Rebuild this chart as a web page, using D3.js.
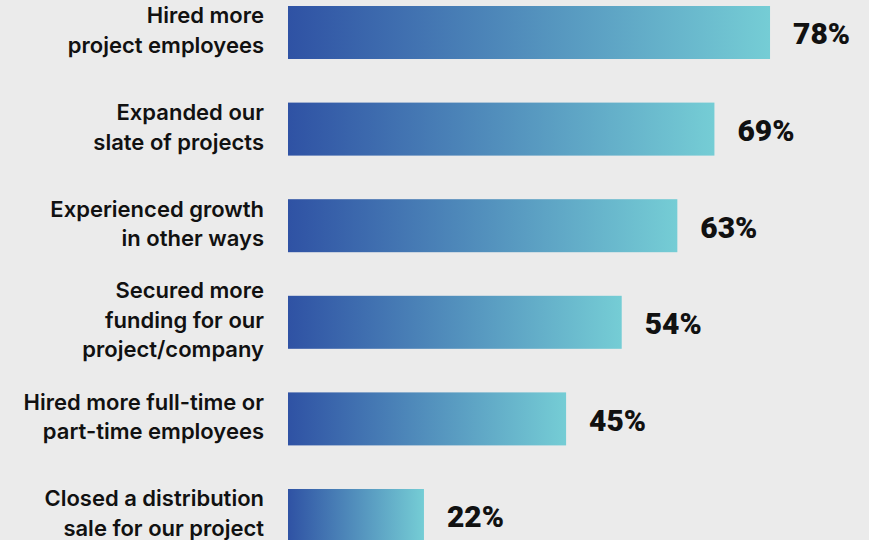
<!DOCTYPE html>
<html>
<head>
<meta charset="utf-8">
<script src="https://cdn.jsdelivr.net/npm/d3@7"></script>
<style>
  html, body { margin: 0; padding: 0; background: #ebebeb; }
  svg { display: block; }
</style>
</head>
<body>
<svg id="chart" width="869" height="540"></svg>
<script>
// Survey outcomes, one bar per answer
const categories = [
  "Hired more project employees",
  "Expanded our slate of projects",
  "Experienced growth in other ways",
  "Secured more funding for our project/company",
  "Hired more full-time or part-time employees",
  "Closed a distribution sale for our project"
];
// Label lines as they wrap next to each bar
const labelLines = [
  ["Hired more", "project employees"],
  ["Expanded our", "slate of projects"],
  ["Experienced growth", "in other ways"],
  ["Secured more", "funding for our", "project/company"],
  ["Hired more full-time or", "part-time employees"],
  ["Closed a distribution", "sale for our project"]
];
const values = [78, 69, 63, 54, 45, 22];

const W = 869, H = 540;
const svg = d3.select("#chart");

const x = d3.scaleLinear().domain([0, 100]).range([288, 288 + 618]);
const y = d3.scaleBand().domain(categories).range([6, 542]).paddingInner(0.4513).paddingOuter(0);

// Horizontal gradient: deep blue to aqua across each bar
const defs = svg.append("defs");
const grad = defs.append("linearGradient")
  .attr("id", "barGrad")
  .attr("x1", "0%").attr("x2", "100%").attr("y1", "0%").attr("y2", "0%");
grad.append("stop").attr("offset", "0%").attr("stop-color", "#2f52a4");
grad.append("stop").attr("offset", "100%").attr("stop-color", "#75cdd5");

svg.append("rect").attr("width", W).attr("height", H).attr("fill", "#ebebeb");

const rows = svg.append("g").selectAll("g")
  .data(categories.map((c, i) => ({ c, v: values[i], lines: labelLines[i] })))
  .join("g");

rows.append("rect")
  .attr("x", x(0))
  .attr("y", d => y(d.c))
  .attr("width", d => x(d.v) - x(0))
  .attr("height", y.bandwidth())
  .attr("fill", "url(#barGrad)");

// Category labels, right-aligned against the bars
const lineH = 29.5;
rows.append("text")
  .attr("text-anchor", "end")
  .attr("font-family", "Inter, Roboto, sans-serif")
  .attr("font-weight", 600)
  .attr("font-size", 22)
  .attr("fill", "#111")
  .each(function(d) {
    const cy = y(d.c) + y.bandwidth() / 2;
    const n = d.lines.length;
    d3.select(this).selectAll("tspan")
      .data(d.lines)
      .join("tspan")
      .attr("x", 264)
      .attr("y", (l, i) => cy + (i - (n - 1) / 2) * lineH - 2)
      .attr("dy", "0.35em")
      .text(l => l);
  });

// Value labels past the end of each bar
rows.append("text")
  .attr("x", d => x(d.v) + 23)
  .attr("y", d => y(d.c) + y.bandwidth() / 2 + 1)
  .attr("dy", "0.36em")
  .attr("font-family", "Roboto, 'Noto Sans', sans-serif")
  .attr("font-weight", 900)
  .attr("font-size", 30)
  .attr("fill", "#111")
  .text(d => d.v + "%");
</script>
</body>
</html>
